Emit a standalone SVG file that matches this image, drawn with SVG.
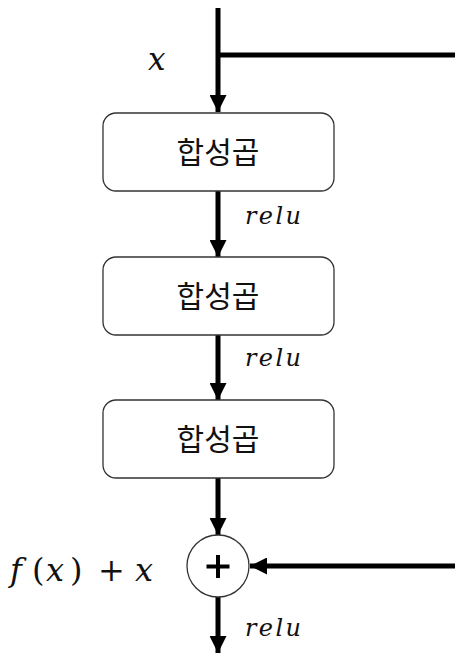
<svg xmlns="http://www.w3.org/2000/svg" width="455" height="655" viewBox="0 0 455 655">
  <style>
    .box { fill: #ffffff; stroke: #333333; stroke-width: 1.3; }
    .lbl { font-family: "Noto Sans CJK KR", "Noto Sans", sans-serif; font-size: 30px; fill: #111111; text-anchor: middle; }
    .math { font-family: "DejaVu Serif", "Liberation Serif", serif; font-style: italic; fill: #111111; }
    .act { font-size: 24px; }
    .up { font-style: normal; }
    .wire { stroke: #000000; stroke-width: 5; fill: none; }
  </style>
  <defs>
    <marker id="head" viewBox="0 0 10 10" refX="10" refY="5" markerWidth="4" markerHeight="3.4" orient="auto" markerUnits="strokeWidth">
      <path d="M0,0 L10,5 L0,10 Z" fill="#000000"/>
    </marker>
  </defs>
  <rect width="455" height="655" fill="#ffffff"/>

  <g id="connectors">
    <line class="wire" x1="218" y1="8" x2="218" y2="112" marker-end="url(#head)"/>
    <line class="wire" x1="216" y1="55" x2="455" y2="55"/>
    <line class="wire" x1="218" y1="191" x2="218" y2="257" marker-end="url(#head)"/>
    <line class="wire" x1="218" y1="335" x2="218" y2="400" marker-end="url(#head)"/>
    <line class="wire" x1="218" y1="478" x2="218" y2="535" marker-end="url(#head)"/>
    <line class="wire" x1="455" y1="566" x2="250" y2="566" marker-end="url(#head)"/>
    <line class="wire" x1="218" y1="597" x2="218" y2="653" marker-end="url(#head)"/>
  </g>

  <g id="input-label">
    <text class="math" x="148" y="70" font-size="31">x</text>
  </g>

  <g id="conv1">
    <rect class="box" x="103" y="113" width="231" height="78" rx="13"/>
    <text class="lbl" x="218" y="163">합성곱</text>
  </g>
  <text class="math act" x="245" y="224" textLength="56" lengthAdjust="spacing">relu</text>

  <g id="conv2">
    <rect class="box" x="103" y="257" width="231" height="78" rx="13"/>
    <text class="lbl" x="218" y="307">합성곱</text>
  </g>
  <text class="math act" x="245" y="366" textLength="56" lengthAdjust="spacing">relu</text>

  <g id="conv3">
    <rect class="box" x="103" y="400" width="231" height="78" rx="13"/>
    <text class="lbl" x="218" y="450">합성곱</text>
  </g>

  <g id="add">
    <circle cx="218" cy="566" r="31" fill="#ffffff" stroke="#333333" stroke-width="1.3"/>
    <path d="M218,555 V578 M206.5,566.5 H229.5" stroke="#000000" stroke-width="4"/>
  </g>
  <text class="math" y="581" font-size="32"><tspan x="10">f</tspan><tspan class="up" x="32">(</tspan><tspan x="46">x</tspan><tspan class="up" x="70">)</tspan><tspan class="up" x="98">+</tspan><tspan x="135">x</tspan></text>
  <text class="math act" x="245" y="636" textLength="56" lengthAdjust="spacing">relu</text>
</svg>
